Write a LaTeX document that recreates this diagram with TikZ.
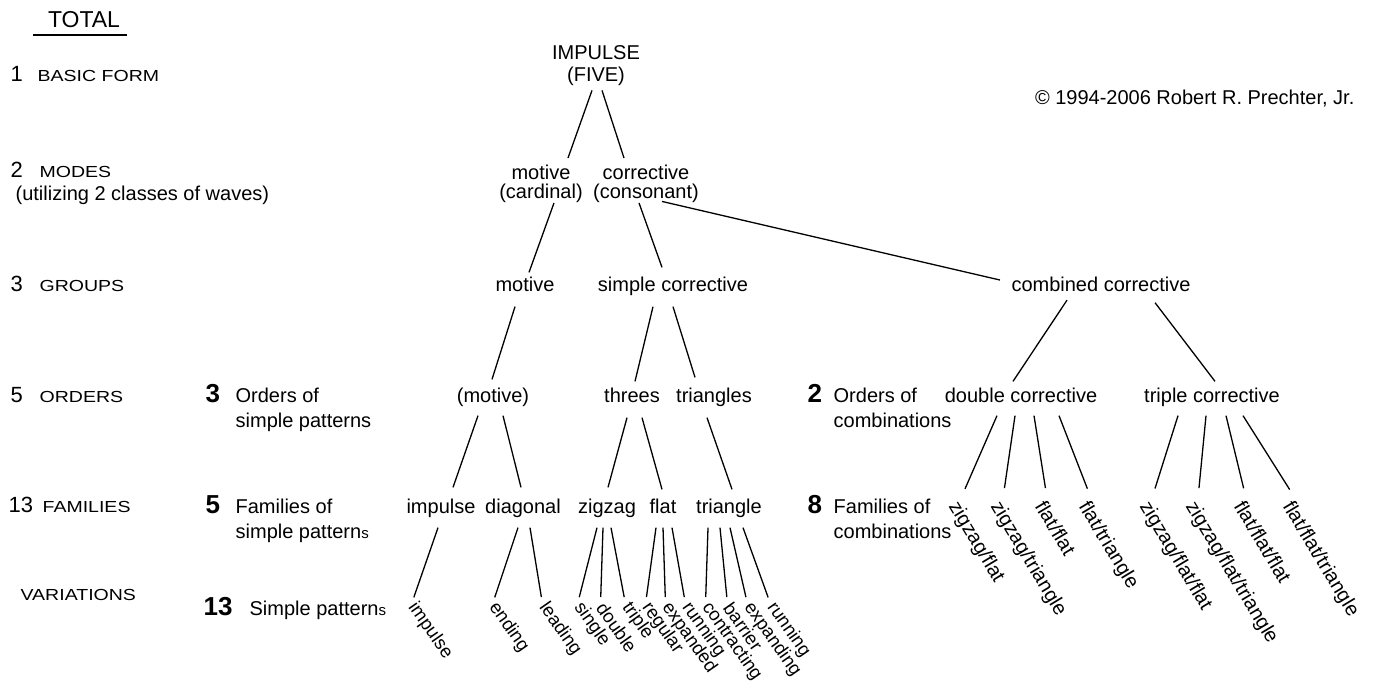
\documentclass[tikz,border=0pt]{standalone}
\usepackage{fontspec}
\setmainfont{Liberation Sans}
\usepackage{graphicx}
\newcommand{\rowcaps}[1]{\scalebox{1.22}[1]{\fontsize{16}{16}\selectfont #1}}

\begin{document}
\begin{tikzpicture}[x=1pt,y=-1pt,line width=1.3pt,
  every node/.style={inner sep=0pt},
  lbl/.style={font=\fontsize{20}{24}\selectfont,text height=14.5pt,text depth=4.5pt,anchor=base},
  two/.style={font=\fontsize{20}{#1}\selectfont,align=center,anchor=north},
  note/.style={font=\fontsize{20}{25}\selectfont,align=left,anchor=north west},
  rowlbl/.style={anchor=base west},
  rownum/.style={font=\fontsize{22}{22}\selectfont,anchor=base west},
  bignum/.style={font=\fontsize{26}{26}\selectfont\bfseries,anchor=base west},
  var/.style={font=\fontsize{18.5}{18.5}\selectfont,rotate=-55,anchor=west},
  cmb/.style={font=\fontsize{20}{20}\selectfont,rotate=-59,anchor=north west}]
\useasboundingbox (0,0) rectangle (1380,683);

% left column
\node[font=\fontsize{23}{23}\selectfont,anchor=base] (total) at (84,27) {TOTAL};
\draw (33,35) -- (127,35);
\node[rownum] (n1) at (10,81) {1};
\node[rowlbl] (basic) at (37,81) {\rowcaps{BASIC FORM}};
\node[rownum] (n2) at (10,177) {2};
\node[rowlbl] (modes) at (39,177) {\rowcaps{MODES}};
\node[font=\fontsize{20}{20}\selectfont,anchor=base west] (util) at (15,200) {(utilizing 2 classes of waves)};
\node[rownum] (n3) at (10,291) {3};
\node[rowlbl] (groups) at (39,291) {\rowcaps{GROUPS}};
\node[rownum] (n5) at (10,402) {5};
\node[rowlbl] (orders) at (39,402) {\rowcaps{ORDERS}};
\node[rownum] (n13) at (8,512) {13};
\node[rowlbl] (fams) at (42,512) {\rowcaps{FAMILIES}};
\node[rowlbl] (vari) at (20,600) {\rowcaps{VARIATIONS}};

% middle column
\node[bignum] (b3) at (205,402) {3};
\node[note] (ord3) at (235,387.5) {Orders of\\simple patterns};
\node[bignum] (b5) at (205,513) {5};
\node[note] (fam5) at (235,498.5) {Families of\\simple pattern{\fontsize{15}{15}\selectfont s}};
\node[bignum] (b13) at (203,615) {13};
\node[font=\fontsize{20}{20}\selectfont,anchor=base west] (simp) at (249,615) {Simple pattern{\fontsize{15}{15}\selectfont s}};

% right column
\node[bignum] (b2) at (807,402) {2};
\node[note] (ord2) at (833,387.5) {Orders of\\combinations};
\node[bignum] (b8) at (807,513) {8};
\node[note] (fam8) at (833,498.5) {Families of\\combinations};

\node[font=\fontsize{20}{20}\selectfont,anchor=base east] (copy) at (1355,104) {\textcopyright{} 1994-2006 Robert R. Prechter, Jr.};

% tree
\node[two=22] (rt) at (596,45) {IMPULSE\\(FIVE)};
\node[two=19] (mc) at (541,164) {motive\\(cardinal)};
\node[two=19] (cc) at (646,164) {corrective\\(consonant)};
\node[lbl] (mg) at (525,291) {motive};
\node[lbl] (sc) at (673,291) {simple corrective};
\node[lbl] (cb) at (1101,291) {combined corrective};
\node[lbl] (mo) at (493,402) {(motive)};
\node[lbl] (th) at (632,402) {threes};
\node[lbl] (tr) at (714,402) {triangles};
\node[lbl] (dc) at (1021,402) {double corrective};
\node[lbl] (tc) at (1212,402) {triple corrective};
\node[lbl] (fi) at (441,513) {impulse};
\node[lbl] (fd) at (523,513) {diagonal};
\node[lbl] (fz) at (607,513) {zigzag};
\node[lbl] (ff) at (663,513) {flat};
\node[lbl] (ft) at (729,513) {triangle};

% variations
\node[var] (vimp) at (411.5,604) {impulse};
\node[var] (vend) at (492.5,604) {ending};
\node[var] (vlead) at (542.5,604) {leading};
\node[var] (vsing) at (577.5,604) {single};
\node[var] (vdoub) at (600.5,604) {double};
\node[var] (vtrip) at (625.5,604) {triple};
\node[var] (vreg) at (645.5,604) {regular};
\node[var] (vexp) at (665.5,604) {expanded};
\node[var] (vrun) at (685.5,604) {running};
\node[var] (vcon) at (705.5,604) {contracting};
\node[var] (vbar) at (727.5,604) {barrier};
\node[var] (vexpd) at (747.5,604) {expanding};
\node[var] (vrun2) at (770.5,604) {running};

% combinations
\node[cmb] (czf) at (961,498) {zigzag/flat};
\node[cmb] (czt) at (1003,498) {zigzag/triangle};
\node[cmb] (cff) at (1047,498) {flat/flat};
\node[cmb] (cft) at (1091,498) {flat/triangle};
\node[cmb] (czff) at (1152,498) {zigzag/flat/flat};
\node[cmb] (czft) at (1198,498) {zigzag/flat/triangle};
\node[cmb] (cfff) at (1246,498) {flat/flat/flat};
\node[cmb] (cfft) at (1295,498) {flat/flat/triangle};

% connectors
\draw ([xshift=-4pt,yshift=-4pt]rt.south) -- ([xshift=27pt,yshift=6pt]mc.north);
\draw ([xshift=6pt,yshift=-4pt]rt.south) -- ([xshift=-22pt,yshift=6pt]cc.north);
\draw ([xshift=13pt]mc.south) -- ([xshift=4pt,yshift=3.5pt]mg.north);
\draw ([xshift=-7pt]cc.south) -- ([xshift=-11pt,yshift=8.5pt]sc.north);
\draw ([xshift=16pt,yshift=1.5pt]cc.south) -- ([xshift=-11pt,yshift=6pt]cb.west);
\draw ([xshift=-10pt,yshift=-10.5pt]mg.south) -- ([xshift=-1pt,yshift=7.5pt]mo.north);
\draw ([xshift=-20pt,yshift=-10.5pt]sc.south) -- ([xshift=3pt,yshift=5.5pt]th.north);
\draw ([yshift=-10.5pt]sc.south) -- ([xshift=-19pt,yshift=9.5pt]tr.north);
\draw ([xshift=-34pt,yshift=-4pt]cb.south) -- ([xshift=-8pt,yshift=5.5pt]dc.north);
\draw ([xshift=54pt,yshift=-6.5pt]cb.south) -- ([xshift=3pt,yshift=5.5pt]tc.north);
\draw ([xshift=-15pt,yshift=-8.5pt]mo.south) -- ([xshift=12pt,yshift=10.5pt]fi.north);
\draw ([xshift=10pt,yshift=-8.5pt]mo.south) -- ([xshift=-2pt,yshift=10.5pt]fd.north);
\draw ([xshift=-5pt,yshift=-10.5pt]th.south) -- ([xshift=1pt,yshift=10.5pt]fz.north);
\draw ([xshift=10pt,yshift=-10.5pt]th.south) -- ([xshift=-1pt,yshift=8.5pt]ff.north);
\draw ([xshift=-7pt,yshift=-10.5pt]tr.south) -- ([xshift=3pt,yshift=8.5pt]ft.north);

\draw[shorten >=7pt] ([xshift=-3pt,yshift=-9.5pt]fi.south) -- (vimp.west);
\draw[shorten >=7pt] ([xshift=-5pt,yshift=-9.5pt]fd.south) -- (vend.west);
\draw[shorten >=7pt] ([xshift=7pt,yshift=-9.5pt]fd.south) -- (vlead.west);
\draw[shorten >=7pt] ([xshift=-10pt,yshift=-9.5pt]fz.south) -- (vsing.west);
\draw[shorten >=7pt] ([xshift=-4pt,yshift=-9.5pt]fz.south) -- (vdoub.west);
\draw[shorten >=7pt] ([xshift=4pt,yshift=-9.5pt]fz.south) -- (vtrip.west);
\draw[shorten >=7pt] ([xshift=-7pt,yshift=-9.5pt]ff.south) -- (vreg.west);
\draw[shorten >=7pt] ([yshift=-9.5pt]ff.south) -- (vexp.west);
\draw[shorten >=7pt] ([xshift=9pt,yshift=-9.5pt]ff.south) -- (vrun.west);
\draw[shorten >=7pt] ([xshift=-21pt,yshift=-9.5pt]ft.south) -- (vcon.west);
\draw[shorten >=7pt] ([xshift=-9pt,yshift=-9.5pt]ft.south) -- (vbar.west);
\draw[shorten >=7pt] ([xshift=1pt,yshift=-9.5pt]ft.south) -- (vexpd.west);
\draw[shorten >=7pt] ([xshift=14pt,yshift=-9.5pt]ft.south) -- (vrun2.west);

\draw[shorten >=10pt] ([xshift=-24pt,yshift=-8.5pt]dc.south) -- (czf.north west);
\draw[shorten >=10pt] ([xshift=-6pt,yshift=-8.5pt]dc.south) -- (czt.north west);
\draw[shorten >=10pt] ([xshift=13pt,yshift=-8.5pt]dc.south) -- (cff.north west);
\draw[shorten >=10pt] ([xshift=38pt,yshift=-8.5pt]dc.south) -- (cft.north west);
\draw[shorten >=10pt] ([xshift=-34pt,yshift=-8.5pt]tc.south) -- (czff.north west);
\draw[shorten >=10pt] ([xshift=-6pt,yshift=-8.5pt]tc.south) -- (czft.north west);
\draw[shorten >=10pt] ([xshift=14pt,yshift=-8.5pt]tc.south) -- (cfff.north west);
\draw[shorten >=10pt] ([xshift=31pt,yshift=-8.5pt]tc.south) -- (cfft.north west);
\end{tikzpicture}
\end{document}
